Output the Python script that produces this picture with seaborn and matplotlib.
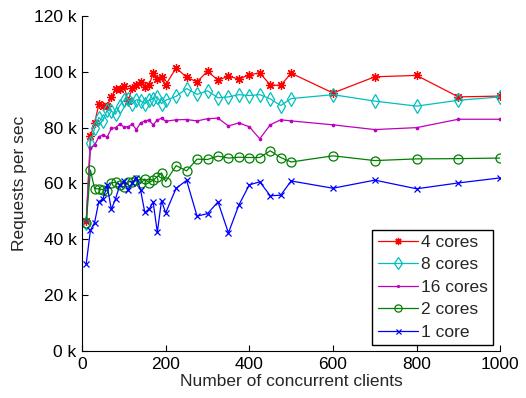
import matplotlib
matplotlib.use("Agg")
import matplotlib.pyplot as plt
from matplotlib.ticker import FuncFormatter
import seaborn as sns
import pandas as pd

# Number of concurrent clients
clients = [10, 20, 30, 40, 50, 60, 70, 80, 90, 100, 110, 120, 130, 140, 150,
           160, 170, 180, 190, 200, 225, 250, 275, 300, 325, 350, 375, 400,
           425, 450, 475, 500, 600, 700, 800, 900, 1000]

# Requests per second (thousands)
cores4 = [46.6, 76.9, 81.7, 88.3, 87.9, 87.9, 90.8, 93.7, 93.7, 95.0, 89.6,
          94.1, 95.3, 96.5, 94.7, 95.2, 99.4, 97.3, 98.0, 95.3, 101.4, 98.0,
          96.4, 100.2, 97.0, 98.4, 97.4, 98.9, 99.6, 95.3, 95.1, 99.5, 92.4,
          98.2, 98.7, 91.0, 91.3]
cores8 = [45.9, 74.6, 79.7, 83.6, 82.4, 86.3, 85.9, 84.8, 87.9, 89.8, 90.2,
          88.5, 90.0, 89.6, 88.6, 89.8, 90.3, 91.0, 88.6, 89.8, 91.2, 94.0,
          91.9, 93.2, 90.7, 91.0, 91.8, 91.5, 91.8, 90.3, 87.9, 90.4, 91.8,
          89.5, 87.7, 89.8, 91.0]
cores16 = [46.4, 72.8, 73.7, 76.7, 77.4, 76.6, 79.7, 80.0, 81.2, 80.3, 80.3,
           81.2, 79.3, 81.7, 82.4, 82.7, 81.0, 82.7, 83.4, 82.3, 82.8, 82.9,
           82.4, 83.2, 83.4, 80.6, 81.7, 80.3, 76.0, 81.0, 82.8, 82.4, 81.0,
           79.3, 80.0, 83.0, 83.0]
cores2 = [45.9, 64.8, 58.1, 58.1, 57.8, 57.3, 60.2, 60.5, 59.3, 58.8, 60.7,
          60.5, 61.2, 60.0, 61.6, 60.3, 61.2, 62.4, 63.8, 60.7, 66.4, 64.5,
          68.7, 68.6, 69.8, 69.1, 69.4, 69.3, 69.3, 71.7, 69.3, 67.7, 69.9,
          68.2, 68.8, 68.9, 69.1]
cores1 = [31.3, 43.2, 46.0, 53.5, 54.5, 59.3, 50.7, 54.5, 59.3, 60.8, 57.6,
          60.2, 62.1, 57.6, 49.7, 50.7, 53.3, 42.5, 53.8, 49.5, 58.3, 61.1,
          48.3, 49.2, 53.4, 42.3, 52.3, 59.5, 60.6, 55.6, 55.8, 60.9, 58.3,
          61.2, 58.1, 60.2, 62.0]

series_labels = ["4 cores", "8 cores", "16 cores", "2 cores", "1 core"]
series_values = [cores4, cores8, cores16, cores2, cores1]

sns.set_style("white")
plt.rcParams["font.family"] = ["Liberation Sans", "DejaVu Sans"]

styles = {
    "4 cores": dict(color="#ff0000", marker=(8, 2, 0), ms=6.5, mfc="none"),
    "8 cores": dict(color="#00bfbf", marker="d", ms=7.5, mfc="none"),
    "16 cores": dict(color="#bf00bf", marker=".", ms=3.5, mfc="#bf00bf"),
    "2 cores": dict(color="#008000", marker="o", ms=6.5, mfc="none"),
    "1 core": dict(color="#0000ff", marker="x", ms=4.5, mfc="none"),
}

frames = []
for lab, vals in zip(series_labels, series_values):
    frames.append(pd.DataFrame({"clients": clients,
                                "rps": [v * 1000 for v in vals],
                                "series": lab}))
df = pd.concat(frames, ignore_index=True)

fig = plt.figure(figsize=(5.26, 3.98), dpi=100)
ax = fig.add_axes([0.156, 0.118, 0.795, 0.842])

for lab in series_labels:
    st = styles[lab]
    sub = df[df["series"] == lab]
    sns.lineplot(data=sub, x="clients", y="rps", ax=ax, label=lab,
                 color=st["color"], marker=st["marker"], markersize=st["ms"],
                 markeredgewidth=0.9, markeredgecolor=st["color"],
                 markerfacecolor=st["mfc"], linewidth=0.9, errorbar=None)

ax.set_xlim(0, 1000)
ax.set_ylim(0, 120000)
ax.set_xticks([0, 200, 400, 600, 800, 1000])
ax.set_yticks([0, 20000, 40000, 60000, 80000, 100000, 120000])
ax.yaxis.set_major_formatter(FuncFormatter(lambda v, p: f"{int(round(v / 1000))} k"))

for side in ("top", "right"):
    ax.spines[side].set_visible(False)
for side in ("left", "bottom"):
    ax.spines[side].set_color("black")
    ax.spines[side].set_linewidth(0.8)

ax.tick_params(direction="in", length=4, width=0.8, labelsize=12.5,
               colors="black", left=True, bottom=True, pad=4)
ax.set_xlabel("Number of concurrent clients", fontsize=12.5, labelpad=2)
ax.set_ylabel("Requests per sec", fontsize=12.5, labelpad=5)

leg = ax.legend(loc="lower right", bbox_to_anchor=(0.983, 0.018),
                fontsize=12.5, frameon=True, fancybox=False, framealpha=1,
                edgecolor="black", handlelength=2.3, handletextpad=0.2,
                labelspacing=0.42, borderpad=0.3, borderaxespad=0,
                markerscale=0.8)
leg.get_frame().set_linewidth(1.0)

fig.savefig("out.png", dpi=100)
